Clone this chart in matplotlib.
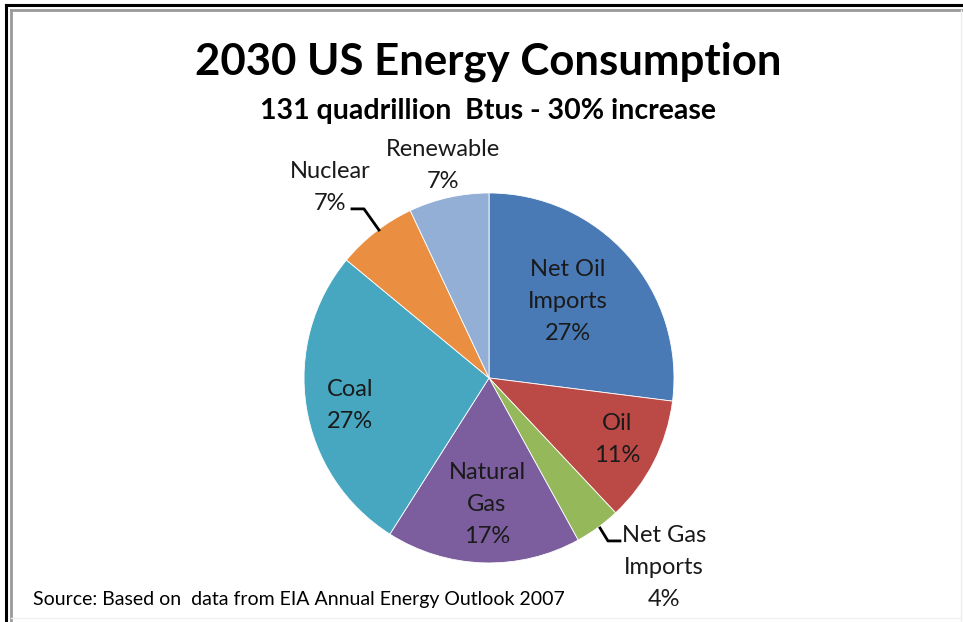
import matplotlib
matplotlib.use("Agg")
import matplotlib.pyplot as plt
from matplotlib.lines import Line2D

# data
categories = ["Net Oil\nImports", "Oil", "Net Gas\nImports", "Natural\nGas", "Coal", "Nuclear", "Renewable"]
shares = [27, 11, 4, 17, 27, 7, 7]
colors = ["#4a7ab5", "#bb4a47", "#94b85a", "#7c5e9e", "#47a7c1", "#ea8e42", "#93afd6"]

# label layout (data coords, pie radius = 1)
label_pos = [(0.427, 0.411), (0.692, -0.335), (0.946, -1.027), (-0.011, -0.686),
             (-0.751, -0.151), (-0.859, 1.032), (-0.249, 1.151)]

plt.rcParams['font.family'] = ['Lato', 'DejaVu Sans']

fig = plt.figure(figsize=(9.63, 6.22), dpi=100)
fig.patch.set_facecolor('white')

# frame around the slide
fig.add_artist(Line2D([0.006, 0.006], [0.0, 0.992], color='black', lw=2.2))
fig.add_artist(Line2D([0.006, 1.0], [0.992, 0.992], color='black', lw=2.2))
fig.add_artist(Line2D([0.011, 0.011], [0.0, 0.984], color='#999999', lw=2))
fig.add_artist(Line2D([0.011, 1.0], [0.984, 0.984], color='#999999', lw=2))
fig.add_artist(Line2D([0.998, 0.998], [0.0, 0.984], color='#ececec', lw=1))
fig.add_artist(Line2D([0.011, 0.998], [0.006, 0.006], color='#f0f0f0', lw=1))

ax = fig.add_axes([0.3157, 0.0949, 0.3842, 0.5949])
wedges, _ = ax.pie(shares, colors=colors, startangle=90, counterclock=False,
                   wedgeprops=dict(edgecolor='white', linewidth=0.6))
ax.set_xlim(-1, 1)
ax.set_ylim(-1, 1)
ax.set_aspect('equal')

for name, val, (x, y) in zip(categories, shares, label_pos):
    ax.text(x, y, f"{name}\n{val}%", ha='center', va='center', fontsize=17,
            color='#1a1a1a', linespacing=1.65)

# leader lines
ax.plot([-0.741, -0.676, -0.595], [0.914, 0.914, 0.800], color='black', lw=2, clip_on=False)
ax.plot([0.600, 0.643, 0.708], [-0.811, -0.881, -0.881], color='black', lw=2, clip_on=False)

fig.text(0.507, 0.900, "2030 US Energy Consumption", ha='center', va='center',
         fontsize=31.5, fontweight='bold')
fig.text(0.507, 0.8215, "131 quadrillion  Btus - 30% increase", ha='center', va='center',
         fontsize=20.5, fontweight='bold')
fig.text(0.034, 0.0354, "Source: Based on  data from EIA Annual Energy Outlook 2007",
         ha='left', va='center', fontsize=14)

plt.savefig('out.png', dpi=100)
